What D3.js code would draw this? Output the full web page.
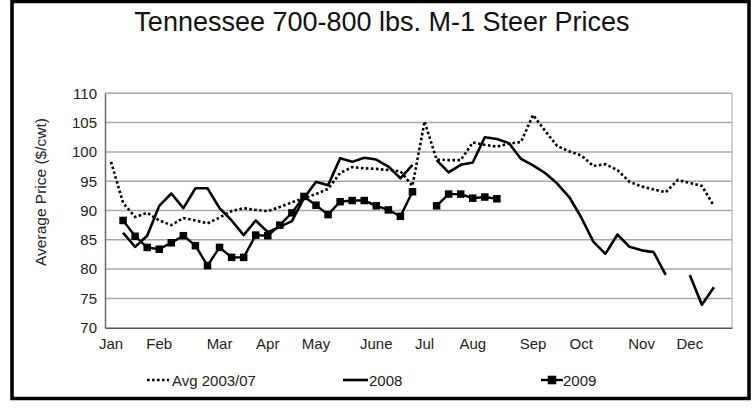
<!DOCTYPE html>
<html>
<head>
<meta charset="utf-8">
<script src="https://cdn.jsdelivr.net/npm/d3@7/dist/d3.min.js"></script>
<style>
  html, body { margin: 0; padding: 0; background: #fff; }
  svg { display: block; font-family: "Liberation Sans", Arial, sans-serif; }
</style>
</head>
<body>
<svg id="chart" width="756" height="410"></svg>
<script>
// ---- data (weekly, 52 weeks) ----
const weeks = d3.range(52);
const monthNames = ["Jan","Feb","Mar","Apr","May","June","Jul","Aug","Sep","Oct","Nov","Dec"];
const monthWeeks = [0, 4, 9, 13, 17, 22, 26, 30, 35, 39, 44, 48];
const yTicks = [70, 75, 80, 85, 90, 95, 100, 105, 110];

const avg0307 = [98.3, 91.3, 88.9, 89.6, 88.3, 87.5, 88.7, 88.3, 87.8, 88.8,
  89.9, 90.4, 90.1, 89.9, 90.6, 91.4, 92.1, 92.8, 93.7, 96.4,
  97.4, 97.2, 97.1, 96.9, 96.7, 94.2, 105.2, 98.7, 98.6, 98.6,
  101.6, 101.2, 100.9, 101.4, 101.7, 106.3, 103.6, 101.0, 100.1, 99.4,
  97.6, 97.9, 96.9, 94.9, 94.1, 93.6, 93.1, 95.2, 94.7, 94.2,
  90.8, null];
const y2008 = [null, 86.2, 83.8, 85.7, 90.8, 92.9, 90.4, 93.8, 93.8, 90.4,
  88.3, 85.8, 88.3, 86.3, 87.2, 88.2, 92.1, 94.9, 94.3, 98.9,
  98.3, 99.0, 98.7, 97.5, 95.5, 97.8, null, 98.6, 96.5, 97.8,
  98.2, 102.5, 102.2, 101.5, 98.8, 97.7, 96.4, 94.6, 92.3, 88.8,
  84.7, 82.6, 85.9, 83.8, 83.2, 82.9, 79.0, null, 79.0, 73.9,
  76.9, null];
const y2009 = [null, 88.3, 85.6, 83.7, 83.4, 84.5, 85.7, 84.0, 80.6, 83.7,
  82.0, 82.0, 85.8, 85.7, 87.5, 89.6, 92.4, 90.9, 89.3, 91.5,
  91.7, 91.7, 90.8, 90.1, 89.0, 93.2, null, 90.8, 92.8, 92.8,
  92.1, 92.3, 92.0, null, null, null, null, null, null, null,
  null, null, null, null, null, null, null, null, null, null,
  null, null];

const titleText = "Tennessee 700-800 lbs. M-1 Steer Prices";
const yTitle = "Average Price ($/cwt)";
const legendLabels = ["Avg 2003/07", "2008", "2009"];

// ---- layout ----
const svg = d3.select("#chart");
const plot = { left: 105, right: 732, top: 93.3, bottom: 327.7 };

svg.append("rect").attr("x", 0).attr("y", 0).attr("width", 756).attr("height", 410).attr("fill", "#fff");
// outer frame
svg.append("rect").attr("x", 12).attr("y", 1.5).attr("width", 737).attr("height", 397)
  .attr("fill", "none").attr("stroke", "#000").attr("stroke-width", 3.5);

const x = d3.scaleBand().domain(weeks).range([plot.left, plot.right]).padding(0);
const cx = i => x(i) + x.bandwidth() / 2;
const y = d3.scaleLinear().domain([70, 110]).range([plot.bottom, plot.top]);

// gridlines
svg.append("g").selectAll("line").data(yTicks.filter(t => t > 70)).join("line")
  .attr("x1", plot.left).attr("x2", plot.right)
  .attr("y1", d => y(d)).attr("y2", d => y(d))
  .attr("stroke", "#a8a8a8").attr("stroke-width", 1.5);
// right border of plot
svg.append("line").attr("x1", plot.right).attr("x2", plot.right)
  .attr("y1", plot.top).attr("y2", plot.bottom)
  .attr("stroke", "#b0b0b0").attr("stroke-width", 1.2);

// y axis
const yAxis = d3.axisLeft(y).tickValues(yTicks).tickSize(0).tickPadding(8);
const gy = svg.append("g").attr("transform", `translate(${plot.left},0)`).call(yAxis);
gy.select(".domain").attr("stroke", "#666").attr("stroke-width", 1.5);
gy.selectAll("text").attr("font-size", 15).attr("fill", "#222")
  .attr("font-family", "Liberation Sans, Arial, sans-serif");

// x axis
const xAxis = d3.axisBottom(x).tickValues(monthWeeks)
  .tickFormat(d => monthNames[monthWeeks.indexOf(d)]).tickSize(0).tickPadding(11);
const gx = svg.append("g").attr("transform", `translate(0,${plot.bottom})`).call(xAxis);
gx.select(".domain").attr("stroke", "#555").attr("stroke-width", 1.5);
gx.selectAll("text").attr("font-size", 15).attr("fill", "#222")
  .attr("font-family", "Liberation Sans, Arial, sans-serif");

// lines
const line = d3.line().defined(d => d.v != null).x(d => cx(d.i)).y(d => y(d.v));
const toPts = arr => arr.map((v, i) => ({ i, v }));

svg.append("path").datum(toPts(avg0307)).attr("d", line)
  .attr("fill", "none").attr("stroke", "#000").attr("stroke-width", 2.6)
  .attr("stroke-dasharray", "2.6,2.4");
svg.append("path").datum(toPts(y2008)).attr("d", line)
  .attr("fill", "none").attr("stroke", "#000").attr("stroke-width", 2.6)
  .attr("stroke-linejoin", "round");
svg.append("path").datum(toPts(y2009)).attr("d", line)
  .attr("fill", "none").attr("stroke", "#000").attr("stroke-width", 2.4);
const ms = 7.5;
svg.append("g").selectAll("rect").data(toPts(y2009).filter(d => d.v != null)).join("rect")
  .attr("x", d => cx(d.i) - ms / 2).attr("y", d => y(d.v) - ms / 2)
  .attr("width", ms).attr("height", ms).attr("fill", "#000");

// title
svg.append("text").attr("x", 382).attr("y", 31).attr("text-anchor", "middle")
  .attr("font-size", 27).attr("fill", "#111").text(titleText);

// y title
svg.append("text").attr("transform", "translate(46,192) rotate(-90)")
  .attr("text-anchor", "middle").attr("font-size", 15.5).attr("fill", "#222").text(yTitle);

// legend
const lg = svg.append("g");
const ly = 380;
lg.append("line").attr("x1", 147).attr("x2", 169).attr("y1", ly).attr("y2", ly)
  .attr("stroke", "#000").attr("stroke-width", 2.6).attr("stroke-dasharray", "2.6,2.4");
lg.append("text").attr("x", 172).attr("y", ly + 5.5).attr("font-size", 15).attr("fill", "#222").text(legendLabels[0]);
lg.append("line").attr("x1", 343).attr("x2", 368).attr("y1", ly).attr("y2", ly)
  .attr("stroke", "#000").attr("stroke-width", 2.6);
lg.append("text").attr("x", 369).attr("y", ly + 5.5).attr("font-size", 15).attr("fill", "#222").text(legendLabels[1]);
lg.append("line").attr("x1", 541).attr("x2", 563).attr("y1", ly).attr("y2", ly)
  .attr("stroke", "#000").attr("stroke-width", 2.4);
lg.append("rect").attr("x", 552 - ms / 2 - 0.5).attr("y", ly - ms / 2 - 0.5).attr("width", ms + 1).attr("height", ms + 1).attr("fill", "#000");
lg.append("text").attr("x", 563).attr("y", ly + 5.5).attr("font-size", 15).attr("fill", "#222").text(legendLabels[2]);
</script>
</body>
</html>
